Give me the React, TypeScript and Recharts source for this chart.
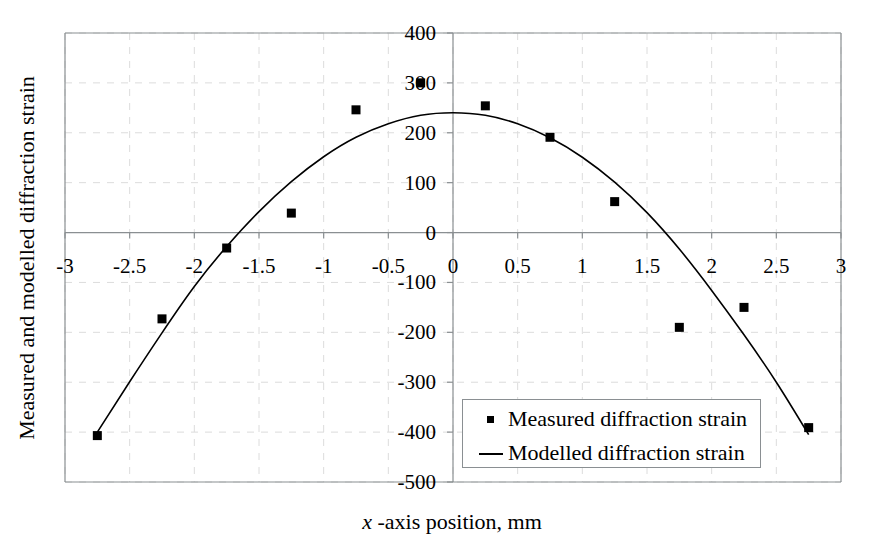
import {
  ComposedChart, Scatter, Line, XAxis, YAxis, CartesianGrid, ReferenceLine, ReferenceDot,
} from "recharts";

const measuredX = [-2.75, -2.25, -1.75, -1.25, -0.75, -0.25, 0.25, 0.75, 1.25, 1.75, 2.25, 2.75];
const measuredY = [-407, -173, -31, 39, 246, 300, 254, 191, 62, -190, -150, -391];

const modelX = [-2.75, -2.5, -2.25, -2, -1.75, -1.5, -1.25, -1, -0.75, -0.5, -0.25, 0,
  0.25, 0.5, 0.75, 1, 1.25, 1.5, 1.75, 2, 2.25, 2.5, 2.75];
const modelY = [-400, -299, -201, -108, -28, 42, 102, 152, 191, 218, 235, 240,
  235, 218, 190, 151, 101, 40, -33, -116, -205, -300, -405];

const xTicks = [-3, -2.5, -2, -1.5, -1, -0.5, 0, 0.5, 1, 1.5, 2, 2.5, 3];
const yTicks = [-500, -400, -300, -200, -100, 0, 100, 200, 300, 400];

const measured = measuredX.map((x, i) => ({ x, y: measuredY[i] }));
const modelled = modelX.map((x, i) => ({ x, y: modelY[i] }));

const FONT = "Liberation Serif, Times New Roman, serif";
const AXIS = "#8a8f92";

function LegendBox() {
  return (
    <div style={{
      position: "absolute", left: 462, top: 399,
      border: `1px solid ${AXIS}`, background: "#fff", width: 299, height: 69,
      fontFamily: FONT, fontSize: 22, color: "#000", boxSizing: "border-box",
    }}>
      <div style={{ display: "flex", alignItems: "center", height: 34, marginTop: 2 }}>
        <span style={{ width: 45, position: "relative", height: 34, flexShrink: 0 }}>
          <span style={{ position: "absolute", left: 24, top: 14, width: 7, height: 7, background: "#000" }} />
        </span>
        <span>Measured diffraction strain</span>
      </div>
      <div style={{ display: "flex", alignItems: "center", height: 34 }}>
        <span style={{ width: 45, position: "relative", height: 34, flexShrink: 0 }}>
          <span style={{ position: "absolute", left: 16, top: 17, width: 24, height: 1.5, background: "#000" }} />
        </span>
        <span>Modelled diffraction strain</span>
      </div>
    </div>
  );
}

const tickText = { fontFamily: FONT, fontSize: 21, fill: "#000" };

export default function App() {
  return (
    <div style={{ position: "absolute", left: 0, top: 0, width: 872, height: 550, background: "#fff", fontFamily: FONT }}>
      <ComposedChart
        width={872}
        height={550}
        margin={{ top: 33, right: 31, bottom: 68, left: 65 }}
        style={{ fontFamily: FONT }}
      >
        <XAxis type="number" dataKey="x" domain={[-3, 3]} ticks={xTicks} hide allowDataOverflow />
        <YAxis type="number" dataKey="y" domain={[-500, 400]} ticks={yTicks} hide allowDataOverflow />
        <CartesianGrid
          strokeDasharray="7 7"
          stroke="#dcdcdc"
          horizontalValues={yTicks}
          verticalValues={xTicks}
        />
        <ReferenceLine x={-3} stroke={AXIS} strokeWidth={1.2} />
        <ReferenceLine x={3} stroke={AXIS} strokeWidth={1.2} />
        <ReferenceLine y={400} stroke={AXIS} strokeWidth={1.2} />
        <ReferenceLine y={-500} stroke={AXIS} strokeWidth={1.2} />
        <ReferenceLine x={0} stroke={AXIS} strokeWidth={1.2} />
        <ReferenceLine y={0} stroke={AXIS} strokeWidth={1.2} />
        {yTicks.map((v) => (
          <ReferenceDot
            key={`y${v}`}
            x={0}
            y={v}
            ifOverflow="visible"
            shape={(p: any) => (
              <g>
                <line x1={p.cx - 6} x2={p.cx} y1={p.cy} y2={p.cy} stroke={AXIS} strokeWidth={1.2} />
                <text x={p.cx - 17} y={p.cy} textAnchor="end" dominantBaseline="central" style={tickText}>
                  {v}
                </text>
              </g>
            )}
          />
        ))}
        {xTicks.map((v) => (
          <ReferenceDot
            key={`x${v}`}
            x={v}
            y={0}
            ifOverflow="visible"
            shape={(p: any) => (
              <g>
                <line x1={p.cx} x2={p.cx} y1={p.cy} y2={p.cy + 6} stroke={AXIS} strokeWidth={1.2} />
                <text x={p.cx} y={p.cy + 33} textAnchor="middle" dominantBaseline="central" style={tickText}>
                  {v}
                </text>
              </g>
            )}
          />
        ))}
        <Line
          data={modelled}
          dataKey="y"
          type="natural"
          stroke="#000"
          strokeWidth={1.6}
          dot={false}
          isAnimationActive={false}
          name="Modelled diffraction strain"
        />
        <Scatter
          data={measured}
          dataKey="y"
          fill="#000"
          isAnimationActive={false}
          name="Measured diffraction strain"
          shape={(p: any) => <rect x={p.cx - 4.5} y={p.cy - 4.5} width={9} height={9} fill="#000" />}
        />
      </ComposedChart>
      <LegendBox />
      <div style={{
        position: "absolute", left: 27, top: 258, transform: "translate(-50%, -50%) rotate(-90deg)",
        whiteSpace: "nowrap", fontSize: 22, fontFamily: FONT,
      }}>
        Measured and modelled diffraction strain
      </div>
      <div style={{
        position: "absolute", left: 452, top: 522, transform: "translate(-50%, -50%)",
        whiteSpace: "nowrap", fontSize: 22, fontFamily: FONT,
      }}>
        <i>x</i> -axis position, mm
      </div>
    </div>
  );
}
